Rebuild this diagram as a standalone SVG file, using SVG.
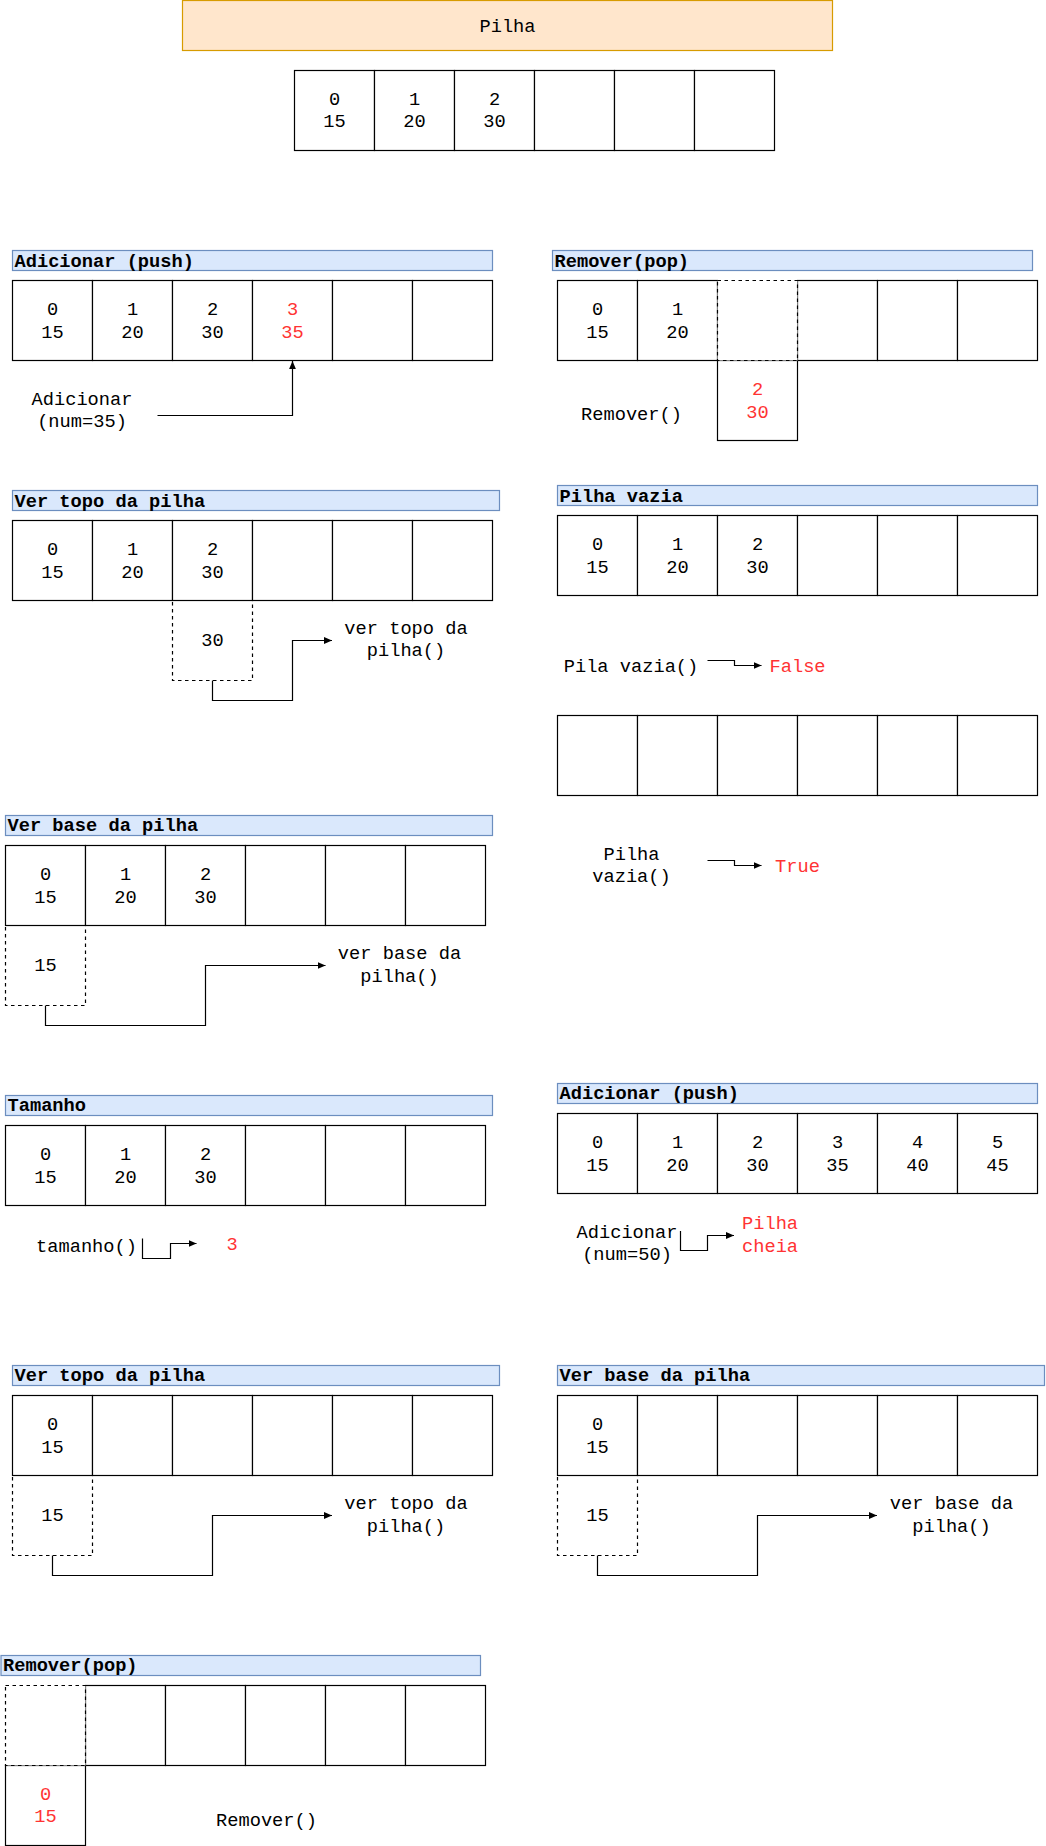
<svg xmlns="http://www.w3.org/2000/svg" width="1046" height="1846" viewBox="0 0 1046 1846">
<style>
.cell{fill:#fff;stroke:#000;stroke-width:1.2}
.dash{fill:#fff;stroke:#000;stroke-width:1.2;stroke-dasharray:3.5 3.5}
.dashn{fill:none;stroke:#000;stroke-width:1.2;stroke-dasharray:3.5 3.5}
.bar{fill:#dae8fc;stroke:#6c8ebf;stroke-width:1.2}
.head{fill:#ffe6cc;stroke:#d79b00;stroke-width:1.2}
text{font-family:"Liberation Mono","Courier New",monospace;font-size:18.7px;fill:#000}
.c{text-anchor:middle}
.b{font-weight:bold}
.r{fill:#ff3333}
.conn{fill:none;stroke:#000;stroke-width:1.2;marker-end:url(#arr)}
</style>
<defs>
<marker id="arr" markerUnits="userSpaceOnUse" markerWidth="9" markerHeight="9" refX="8" refY="4" orient="auto">
<path d="M0,0.6 L8,4 L0,7.4 Z" fill="#000"/>
</marker>
</defs>
<rect width="1046" height="1846" fill="#fff"/>

<g id="titulo">
<rect class="head" x="182.5" y="0.5" width="650" height="50"/>
<text class="c" x="507.5" y="31.5">Pilha</text>
</g>

<g id="pilha-topo">
<rect class="cell" x="294.5" y="70.5" width="80" height="80"/>
<rect class="cell" x="374.5" y="70.5" width="80" height="80"/>
<rect class="cell" x="454.5" y="70.5" width="80" height="80"/>
<rect class="cell" x="534.5" y="70.5" width="80" height="80"/>
<rect class="cell" x="614.5" y="70.5" width="80" height="80"/>
<rect class="cell" x="694.5" y="70.5" width="80" height="80"/>
<text class="c" x="334.5" y="104.5">0</text><text class="c" x="334.5" y="127">15</text>
<text class="c" x="414.5" y="104.5">1</text><text class="c" x="414.5" y="127">20</text>
<text class="c" x="494.5" y="104.5">2</text><text class="c" x="494.5" y="127">30</text>
</g>

<!-- Section 1: Adicionar (push) -->
<g id="push1-titulo">
<rect class="bar" x="12.5" y="250.5" width="480" height="20"/>
<text class="b" x="14.5" y="266.5">Adicionar (push)</text>
</g>
<g id="push1-array">
<rect class="cell" x="12.5" y="280.5" width="80" height="80"/>
<rect class="cell" x="92.5" y="280.5" width="80" height="80"/>
<rect class="cell" x="172.5" y="280.5" width="80" height="80"/>
<rect class="cell" x="252.5" y="280.5" width="80" height="80"/>
<rect class="cell" x="332.5" y="280.5" width="80" height="80"/>
<rect class="cell" x="412.5" y="280.5" width="80" height="80"/>
<text class="c" x="52.5" y="315">0</text><text class="c" x="52.5" y="337.5">15</text>
<text class="c" x="132.5" y="315">1</text><text class="c" x="132.5" y="337.5">20</text>
<text class="c" x="212.5" y="315">2</text><text class="c" x="212.5" y="337.5">30</text>
<text class="c r" x="292.5" y="315">3</text><text class="c r" x="292.5" y="337.5">35</text>
</g>
<g id="push1-label">
<text class="c" x="82" y="405">Adicionar</text>
<text class="c" x="82" y="427">(num=35)</text>
</g>

<!-- Section 2: Remover(pop) -->
<g id="pop1-titulo">
<rect class="bar" x="552.5" y="250.5" width="480" height="20"/>
<text class="b" x="554.5" y="266.5">Remover(pop)</text>
</g>
<g id="pop1-removido">
<rect class="cell" x="717.5" y="360.5" width="80" height="80"/>
<text class="c r" x="757.5" y="395">2</text><text class="c r" x="757.5" y="417.5">30</text>
</g>
<g id="pop1-array">
<rect class="cell" x="557.5" y="280.5" width="80" height="80"/>
<rect class="cell" x="637.5" y="280.5" width="80" height="80"/>
<rect class="cell" x="797.5" y="280.5" width="80" height="80"/>
<rect class="cell" x="877.5" y="280.5" width="80" height="80"/>
<rect class="cell" x="957.5" y="280.5" width="80" height="80"/>
<rect class="dash" x="717.5" y="280.5" width="80" height="80"/>
<text class="c" x="597.5" y="315">0</text><text class="c" x="597.5" y="337.5">15</text>
<text class="c" x="677.5" y="315">1</text><text class="c" x="677.5" y="337.5">20</text>
</g>
<g id="pop1-label">
<text class="c" x="631.5" y="420">Remover()</text>
</g>

<!-- Section 3: Ver topo da pilha -->
<g id="topo1-titulo">
<rect class="bar" x="12.5" y="490.5" width="487" height="20"/>
<text class="b" x="14.5" y="506.5">Ver topo da pilha</text>
</g>
<g id="topo1-array">
<rect class="cell" x="12.5" y="520.5" width="80" height="80"/>
<rect class="cell" x="92.5" y="520.5" width="80" height="80"/>
<rect class="cell" x="172.5" y="520.5" width="80" height="80"/>
<rect class="cell" x="252.5" y="520.5" width="80" height="80"/>
<rect class="cell" x="332.5" y="520.5" width="80" height="80"/>
<rect class="cell" x="412.5" y="520.5" width="80" height="80"/>
<text class="c" x="52.5" y="555">0</text><text class="c" x="52.5" y="577.5">15</text>
<text class="c" x="132.5" y="555">1</text><text class="c" x="132.5" y="577.5">20</text>
<text class="c" x="212.5" y="555">2</text><text class="c" x="212.5" y="577.5">30</text>
</g>
<g id="topo1-valor">
<rect class="dashn" x="172.5" y="600.5" width="80" height="80"/>
<text class="c" x="212.5" y="646">30</text>
</g>
<g id="topo1-label">
<text class="c" x="406" y="633.5">ver topo da</text>
<text class="c" x="406" y="656">pilha()</text>
</g>

<!-- Section 4: Pilha vazia -->
<g id="vazia-titulo">
<rect class="bar" x="557.5" y="485.5" width="480" height="20"/>
<text class="b" x="559.5" y="501.5">Pilha vazia</text>
</g>
<g id="vazia-array1">
<rect class="cell" x="557.5" y="515.5" width="80" height="80"/>
<rect class="cell" x="637.5" y="515.5" width="80" height="80"/>
<rect class="cell" x="717.5" y="515.5" width="80" height="80"/>
<rect class="cell" x="797.5" y="515.5" width="80" height="80"/>
<rect class="cell" x="877.5" y="515.5" width="80" height="80"/>
<rect class="cell" x="957.5" y="515.5" width="80" height="80"/>
<text class="c" x="597.5" y="550">0</text><text class="c" x="597.5" y="572.5">15</text>
<text class="c" x="677.5" y="550">1</text><text class="c" x="677.5" y="572.5">20</text>
<text class="c" x="757.5" y="550">2</text><text class="c" x="757.5" y="572.5">30</text>
</g>
<g id="vazia-label1">
<text class="c" x="631" y="671.5">Pila vazia()</text>
</g>
<g id="vazia-false">
<text class="r" x="769.5" y="671.5">False</text>
</g>
<g id="vazia-array2">
<rect class="cell" x="557.5" y="715.5" width="80" height="80"/>
<rect class="cell" x="637.5" y="715.5" width="80" height="80"/>
<rect class="cell" x="717.5" y="715.5" width="80" height="80"/>
<rect class="cell" x="797.5" y="715.5" width="80" height="80"/>
<rect class="cell" x="877.5" y="715.5" width="80" height="80"/>
<rect class="cell" x="957.5" y="715.5" width="80" height="80"/>
</g>
<g id="vazia-label2">
<text class="c" x="631.5" y="859.5">Pilha</text>
<text class="c" x="631.5" y="881.5">vazia()</text>
</g>
<g id="vazia-true">
<text class="r" x="775" y="871.5">True</text>
</g>

<!-- Section 5: Ver base da pilha -->
<g id="base1-titulo">
<rect class="bar" x="5.5" y="815.5" width="487" height="20"/>
<text class="b" x="7.5" y="831">Ver base da pilha</text>
</g>
<g id="base1-array">
<rect class="cell" x="5.5" y="845.5" width="80" height="80"/>
<rect class="cell" x="85.5" y="845.5" width="80" height="80"/>
<rect class="cell" x="165.5" y="845.5" width="80" height="80"/>
<rect class="cell" x="245.5" y="845.5" width="80" height="80"/>
<rect class="cell" x="325.5" y="845.5" width="80" height="80"/>
<rect class="cell" x="405.5" y="845.5" width="80" height="80"/>
<text class="c" x="45.5" y="880">0</text><text class="c" x="45.5" y="902.5">15</text>
<text class="c" x="125.5" y="880">1</text><text class="c" x="125.5" y="902.5">20</text>
<text class="c" x="205.5" y="880">2</text><text class="c" x="205.5" y="902.5">30</text>
</g>
<g id="base1-valor">
<rect class="dashn" x="5.5" y="925.5" width="80" height="80"/>
<text class="c" x="45.5" y="971">15</text>
</g>
<g id="base1-label">
<text class="c" x="399.5" y="959">ver base da</text>
<text class="c" x="399.5" y="981.5">pilha()</text>
</g>

<!-- Section 6: Tamanho -->
<g id="tam-titulo">
<rect class="bar" x="5.5" y="1095.5" width="487" height="20"/>
<text class="b" x="7.5" y="1111">Tamanho</text>
</g>
<g id="tam-array">
<rect class="cell" x="5.5" y="1125.5" width="80" height="80"/>
<rect class="cell" x="85.5" y="1125.5" width="80" height="80"/>
<rect class="cell" x="165.5" y="1125.5" width="80" height="80"/>
<rect class="cell" x="245.5" y="1125.5" width="80" height="80"/>
<rect class="cell" x="325.5" y="1125.5" width="80" height="80"/>
<rect class="cell" x="405.5" y="1125.5" width="80" height="80"/>
<text class="c" x="45.5" y="1160">0</text><text class="c" x="45.5" y="1182.5">15</text>
<text class="c" x="125.5" y="1160">1</text><text class="c" x="125.5" y="1182.5">20</text>
<text class="c" x="205.5" y="1160">2</text><text class="c" x="205.5" y="1182.5">30</text>
</g>
<g id="tam-label">
<text class="c" x="86.5" y="1251.5">tamanho()</text>
</g>
<g id="tam-result">
<text class="c r" x="232" y="1249.5">3</text>
</g>

<!-- Section 7: Adicionar (push) cheia -->
<g id="push2-titulo">
<rect class="bar" x="557.5" y="1083.5" width="480" height="20"/>
<text class="b" x="559.5" y="1099">Adicionar (push)</text>
</g>
<g id="push2-array">
<rect class="cell" x="557.5" y="1113.5" width="80" height="80"/>
<rect class="cell" x="637.5" y="1113.5" width="80" height="80"/>
<rect class="cell" x="717.5" y="1113.5" width="80" height="80"/>
<rect class="cell" x="797.5" y="1113.5" width="80" height="80"/>
<rect class="cell" x="877.5" y="1113.5" width="80" height="80"/>
<rect class="cell" x="957.5" y="1113.5" width="80" height="80"/>
<text class="c" x="597.5" y="1148">0</text><text class="c" x="597.5" y="1170.5">15</text>
<text class="c" x="677.5" y="1148">1</text><text class="c" x="677.5" y="1170.5">20</text>
<text class="c" x="757.5" y="1148">2</text><text class="c" x="757.5" y="1170.5">30</text>
<text class="c" x="837.5" y="1148">3</text><text class="c" x="837.5" y="1170.5">35</text>
<text class="c" x="917.5" y="1148">4</text><text class="c" x="917.5" y="1170.5">40</text>
<text class="c" x="997.5" y="1148">5</text><text class="c" x="997.5" y="1170.5">45</text>
</g>
<g id="push2-label">
<text class="c" x="627" y="1237.5">Adicionar</text>
<text class="c" x="627" y="1260">(num=50)</text>
</g>
<g id="push2-result">
<text class="r" x="742" y="1229">Pilha</text>
<text class="r" x="742" y="1252">cheia</text>
</g>

<!-- Section 8: Ver topo da pilha (1 elemento) -->
<g id="topo2-titulo">
<rect class="bar" x="12.5" y="1365.5" width="487" height="20"/>
<text class="b" x="14.5" y="1381">Ver topo da pilha</text>
</g>
<g id="topo2-array">
<rect class="cell" x="12.5" y="1395.5" width="80" height="80"/>
<rect class="cell" x="92.5" y="1395.5" width="80" height="80"/>
<rect class="cell" x="172.5" y="1395.5" width="80" height="80"/>
<rect class="cell" x="252.5" y="1395.5" width="80" height="80"/>
<rect class="cell" x="332.5" y="1395.5" width="80" height="80"/>
<rect class="cell" x="412.5" y="1395.5" width="80" height="80"/>
<text class="c" x="52.5" y="1430">0</text><text class="c" x="52.5" y="1452.5">15</text>
</g>
<g id="topo2-valor">
<rect class="dashn" x="12.5" y="1475.5" width="80" height="80"/>
<text class="c" x="52.5" y="1521">15</text>
</g>
<g id="topo2-label">
<text class="c" x="406" y="1509">ver topo da</text>
<text class="c" x="406" y="1531.5">pilha()</text>
</g>

<!-- Section 9: Ver base da pilha (1 elemento) -->
<g id="base2-titulo">
<rect class="bar" x="557.5" y="1365.5" width="487" height="20"/>
<text class="b" x="559.5" y="1381">Ver base da pilha</text>
</g>
<g id="base2-array">
<rect class="cell" x="557.5" y="1395.5" width="80" height="80"/>
<rect class="cell" x="637.5" y="1395.5" width="80" height="80"/>
<rect class="cell" x="717.5" y="1395.5" width="80" height="80"/>
<rect class="cell" x="797.5" y="1395.5" width="80" height="80"/>
<rect class="cell" x="877.5" y="1395.5" width="80" height="80"/>
<rect class="cell" x="957.5" y="1395.5" width="80" height="80"/>
<text class="c" x="597.5" y="1430">0</text><text class="c" x="597.5" y="1452.5">15</text>
</g>
<g id="base2-valor">
<rect class="dashn" x="557.5" y="1475.5" width="80" height="80"/>
<text class="c" x="597.5" y="1521">15</text>
</g>
<g id="base2-label">
<text class="c" x="951.5" y="1509">ver base da</text>
<text class="c" x="951.5" y="1531.5">pilha()</text>
</g>

<!-- Section 10: Remover(pop) último -->
<g id="pop2-titulo">
<rect class="bar" x="1" y="1655.5" width="479.5" height="20"/>
<text class="b" x="3" y="1671">Remover(pop)</text>
</g>
<g id="pop2-removido">
<rect class="cell" x="5.5" y="1765.5" width="80" height="80"/>
<text class="c r" x="45.5" y="1799.5">0</text><text class="c r" x="45.5" y="1822">15</text>
</g>
<g id="pop2-array">
<rect class="cell" x="85.5" y="1685.5" width="80" height="80"/>
<rect class="cell" x="165.5" y="1685.5" width="80" height="80"/>
<rect class="cell" x="245.5" y="1685.5" width="80" height="80"/>
<rect class="cell" x="325.5" y="1685.5" width="80" height="80"/>
<rect class="cell" x="405.5" y="1685.5" width="80" height="80"/>
<rect class="dash" x="5.5" y="1685.5" width="80" height="80"/>
</g>
<g id="pop2-label">
<text class="c" x="266.5" y="1826">Remover()</text>
</g>

<g id="connectors">
<path class="conn" d="M157.5 415.5 H292.5 V361"/>
<path class="conn" d="M212.5 680.5 V700.5 H292.5 V640.5 H332"/>
<path class="conn" d="M707.5 660.5 H734.5 V665.5 H761.5"/>
<path class="conn" d="M707.5 860.5 H734.5 V865.5 H761.5"/>
<path class="conn" d="M45.5 1005.5 V1025.5 H205.5 V965.5 H325.5"/>
<path class="conn" d="M142.5 1238.5 V1258.5 H170.5 V1243.5 H196.5"/>
<path class="conn" d="M680.5 1231 V1250.5 H707.5 V1235.5 H734"/>
<path class="conn" d="M52.5 1555.5 V1575.5 H212.5 V1515.5 H332"/>
<path class="conn" d="M597.5 1555.5 V1575.5 H757.5 V1515.5 H877"/>
</g>
</svg>
